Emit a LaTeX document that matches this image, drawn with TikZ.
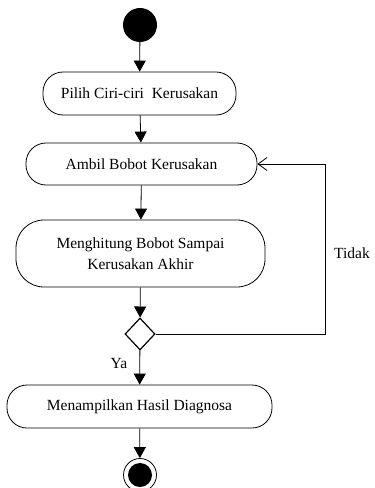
\documentclass[tikz,border=0pt]{standalone}
\usepackage{fontspec}
\setmainfont{Liberation Serif}
\usetikzlibrary{arrows.meta,shapes.geometric}
\begin{document}
\begin{tikzpicture}[x=1bp,y=-1bp,
  every node/.style={font=\fontsize{15.5bp}{21bp}\selectfont},
  action/.style={draw,line width=0.8bp,rounded corners=20bp,align=center,inner sep=0pt},
  flow/.style={line width=0.8bp,-{Triangle[width=12bp,length=11bp]}},
  back/.style={line width=0.8bp,-{Straight Barb[width=13bp,length=9bp,line width=0.8bp]}},
  decision/.style={diamond,draw,line width=1.2bp,minimum width=30bp,minimum height=32bp,inner sep=0pt},
  startnode/.style={circle,fill=black,minimum size=34bp,inner sep=0pt},
  endnode/.style={circle,draw,line width=0.8bp,minimum size=33bp,inner sep=0pt}]
\useasboundingbox (0,0) rectangle (374,488);
\node[startnode] (start) at (140,25) {};
\node[action,minimum width=193bp,minimum height=43bp] (a1) at (139.5,93.5) {Pilih Ciri-ciri\ \ Kerusakan};
\node[action,minimum width=231bp,minimum height=42bp] (a2) at (141.5,164) {Ambil Bobot Kerusakan};
\node[action,rounded corners=28bp,minimum width=249bp,minimum height=67bp] (a3) at (140.5,253.5) {Menghitung Bobot Sampai\\Kerusakan Akhir};
\node[decision] (dec) at (140,334) {};
\node[action,minimum width=265bp,minimum height=43bp] (a4) at (139.5,406.5) {Menampilkan Hasil Diagnosa};
\node[endnode] (end) at (140,475) {};
\fill (end.center) circle (12bp);
\coordinate (loop) at (325,164);
\draw[flow] (start) -- (a1);
\draw[flow] (a1) -- (a2);
\draw[flow] (a2) -- (a3);
\draw[flow] (a3) -- (dec);
\draw[flow] (dec) -- (a4);
\draw[flow] (a4) -- (end);
\draw[back] (dec.east) -| (loop) -- (a2.east);
\node[anchor=west,inner sep=0pt] (tidak) at (334,253) {Tidak};
\node (ya) at (119,363) {Ya};
\end{tikzpicture}
\end{document}
